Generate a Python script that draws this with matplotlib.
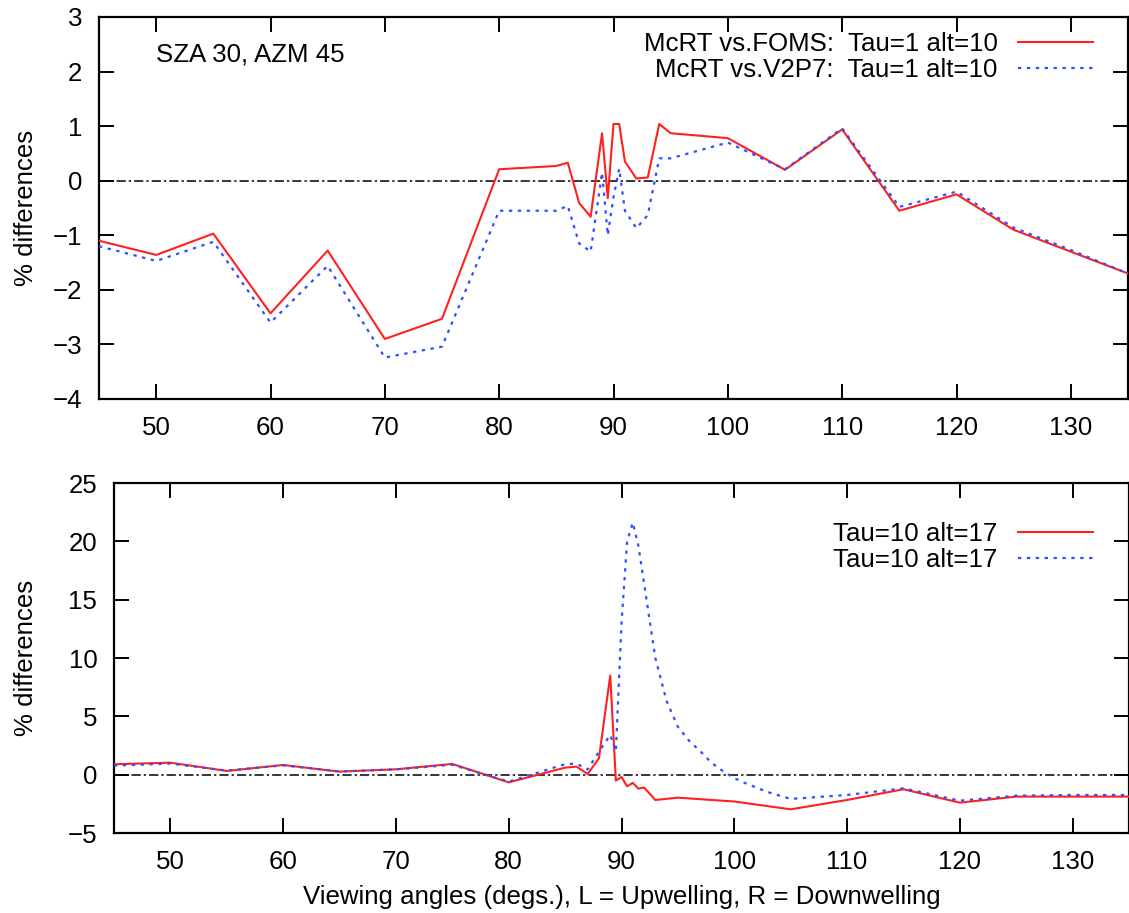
import matplotlib
matplotlib.use("Agg")
import matplotlib.pyplot as plt

plt.rcParams['font.family'] = ['Liberation Sans', 'DejaVu Sans']

# ---- Top panel data (Tau=1 alt=10) ----
ang_top = [45, 50, 55, 60, 65, 70, 75, 80, 85, 86, 87, 88, 89, 89.5, 90, 90.5,
           91, 92, 93, 94, 95, 100, 105, 110, 115, 120, 125, 130, 135]
foms_top = [-1.1, -1.36, -0.97, -2.43, -1.28, -2.9, -2.53, 0.21, 0.27, 0.33, -0.41,
            -0.66, 0.87, -0.32, 1.04, 1.04, 0.35, 0.04, 0.06, 1.04, 0.87, 0.78,
            0.2, 0.94, -0.55, -0.25, -0.9, -1.3, -1.7]
v2p7_top = [-1.2, -1.47, -1.12, -2.6, -1.56, -3.24, -3.04, -0.55, -0.55, -0.46, -1.15,
            -1.3, 0.15, -1.0, -0.3, 0.22, -0.55, -0.87, -0.63, 0.41, 0.41, 0.7,
            0.21, 0.96, -0.48, -0.2, -0.86, -1.27, -1.7]

# ---- Bottom panel data (Tau=10 alt=17) ----
ang_bot_r = [45, 50, 55, 60, 65, 70, 75, 80, 85, 86, 87, 88, 89, 89.5, 90, 90.5,
             91, 91.5, 92, 93, 95, 100, 105, 110, 115, 120, 125, 130, 135]
foms_bot = [0.89, 1.03, 0.32, 0.83, 0.26, 0.46, 0.92, -0.66, 0.6, 0.69, 0.06, 1.4,
            8.5, -0.5, -0.2, -1.0, -0.7, -1.2, -1.1, -2.17, -1.97, -2.3, -2.97,
            -2.17, -1.25, -2.4, -1.88, -1.88, -1.88]
ang_bot_b = [45, 50, 55, 60, 65, 70, 75, 80, 85, 86, 87, 88, 89, 89.5, 90, 90.5,
             91, 91.5, 92, 93, 94, 95, 96, 97, 98, 99, 100, 101, 103, 105, 110,
             115, 120, 125, 130, 135]
v2p7_bot = [0.78, 0.95, 0.35, 0.8, 0.28, 0.45, 0.85, -0.6, 0.9, 0.95, 0.45, 1.97,
            3.4, 2.0, 13.0, 20.0, 21.6, 19.6, 16.4, 10.0, 6.3, 4.1, 2.9, 2.0, 1.0,
            0.3, -0.3, -0.74, -1.5, -2.08, -1.74, -1.17, -2.23, -1.8, -1.74, -1.74]

top_labels = ["McRT vs.FOMS:  Tau=1 alt=10", "McRT vs.V2P7:  Tau=1 alt=10"]
bot_labels = ["Tau=10 alt=17", "Tau=10 alt=17"]

RED = '#ff2020'
BLUE = '#3050ff'
FS = 18.6

fig = plt.figure(figsize=(11.29, 9.13), dpi=100)
ax1 = fig.add_axes([99/1129, 1-399/913, (1128-99)/1129, (399-17)/913])
ax2 = fig.add_axes([114/1129, 1-833/913, (1129-114)/1129, (833-483)/913])


def style(ax, ylim, yticks, ylab_x):
    ax.set_xlim(45, 135)
    ax.set_ylim(*ylim)
    ax.set_xticks(range(50, 135, 10))
    ax.set_yticks(yticks)
    ax.tick_params(direction='in', length=11, width=1.4, labelsize=FS,
                   top=True, right=True, pad=12)
    for s in ax.spines.values():
        s.set_linewidth(1.6)
    ax.axhline(0, color='black', lw=1.1, linestyle=(0, (6, 2, 1.5, 2)), zorder=1)
    ax.set_ylabel('% differences', fontsize=FS)
    ax.yaxis.set_label_coords(ylab_x, 0.5)


def legend(ax, labels, anchor):
    ax.legend(labels=labels, loc='upper right', bbox_to_anchor=anchor,
              frameon=False, fontsize=FS, markerfirst=False, handlelength=2.9,
              labelspacing=0.07, borderaxespad=0.0, borderpad=0.0,
              handletextpad=0.8)


# Top
ax1.plot(ang_top, foms_top, color=RED, lw=1.5, zorder=3)
ax1.plot(ang_top, v2p7_top, color=BLUE, lw=1.6, linestyle=(0, (1.5, 2.5)), zorder=3)
style(ax1, (-4, 3), range(-4, 4), (38 - 99) / 1029)
ax1.text(0.055, 0.903, 'SZA 30, AZM 45', transform=ax1.transAxes, fontsize=FS,
         va='center', ha='left')
legend(ax1, top_labels, ((1093 - 99) / 1029, (399 - 32) / 382))

# Bottom
ax2.plot(ang_bot_r, foms_bot, color=RED, lw=1.5, zorder=3)
ax2.plot(ang_bot_b, v2p7_bot, color=BLUE, lw=1.6, linestyle=(0, (1.5, 2.5)), zorder=3)
style(ax2, (-5, 25), range(-5, 26, 5), (38 - 114) / 1015)
ax2.set_xlabel('Viewing angles (degs.), L = Upwelling, R = Downwelling',
               fontsize=FS, labelpad=8)
legend(ax2, bot_labels, ((1093 - 114) / 1015, (833 - 522) / 350))

fig.savefig('out.png', dpi=100)
